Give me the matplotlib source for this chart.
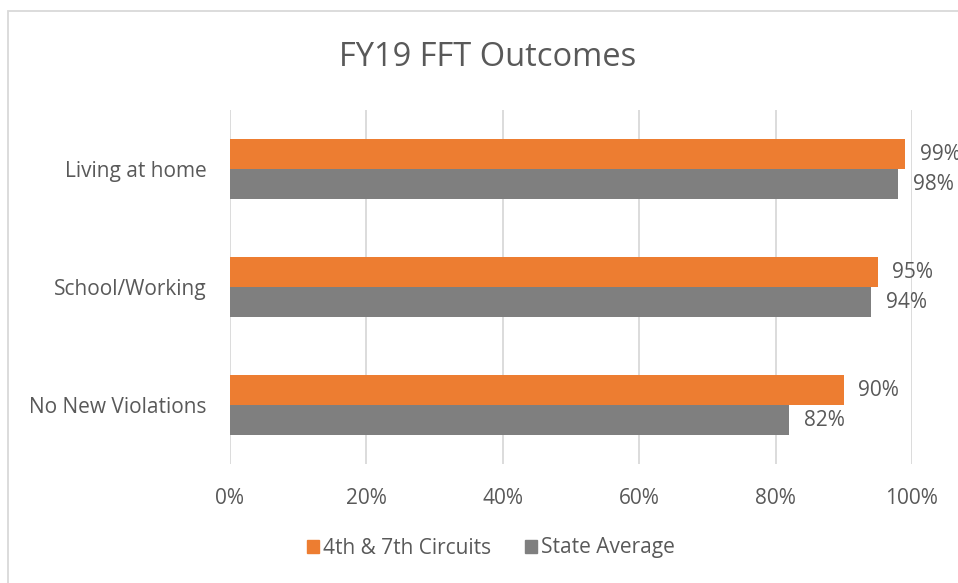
import matplotlib
matplotlib.use("Agg")
import matplotlib.pyplot as plt
from matplotlib.patches import Rectangle, Patch
import numpy as np

categories = ["Living at home", "School/Working", "No New Violations"]
circuits = [99, 95, 90]
state_avg = [98, 94, 82]
series_names = ["4th & 7th Circuits", "State Average"]
xticks = [0, 20, 40, 60, 80, 100]

plt.rcParams['font.family'] = ['Open Sans', 'DejaVu Sans']
TXT = "#595959"
ORANGE = "#ED7D31"
GRAY = "#7F7F7F"
FS = 15

fig = plt.figure(figsize=(9.58, 5.83), dpi=100)
W, H = 958, 583
ax = fig.add_axes([230 / W, 1 - 464 / H, (912 - 230) / W, (464 - 110) / H])

y = np.arange(len(categories))
bh = 30 / 118
ax.barh(y - bh / 2, circuits, height=bh, color=ORANGE, zorder=3)
ax.barh(y + bh / 2, state_avg, height=bh, color=GRAY, zorder=3)
for i in range(len(categories)):
    ax.annotate(f"{circuits[i]}%", (circuits[i], y[i] - bh / 2), xytext=(10.5, 0),
                textcoords="offset points", va="center", ha="left", fontsize=FS,
                color=TXT, annotation_clip=False)
    ax.annotate(f"{state_avg[i]}%", (state_avg[i], y[i] + bh / 2), xytext=(10.5, 0),
                textcoords="offset points", va="center", ha="left", fontsize=FS,
                color=TXT, annotation_clip=False)

ax.set_xlim(0, 100)
ax.set_ylim(len(categories) - 0.5, -0.5)
ax.set_yticks(y)
ax.set_yticklabels(categories, fontsize=FS, color=TXT)
ax.set_xticks(xticks)
ax.set_xticklabels([f"{t}%" for t in xticks], fontsize=FS, color=TXT)
ax.tick_params(axis='both', length=0)
ax.tick_params(axis='x', pad=17)
ax.tick_params(axis='y', pad=17)
for s in ax.spines.values():
    s.set_visible(False)
ax.grid(axis='x', color="#D9D9D9", linewidth=1.3, zorder=0)
ax.set_facecolor("none")

fig.text(488 / W, 1 - 57 / H, "FY19 FFT Outcomes", ha="center", va="center",
         fontsize=23.5, color=TXT)

handles = [Patch(color=ORANGE), Patch(color=GRAY)]
fig.legend(handles, series_names, loc="center", bbox_to_anchor=(491 / W, 1 - 548 / H),
           ncol=2, frameon=False, fontsize=FS, labelcolor=TXT,
           handlelength=0.6, handleheight=0.6, handletextpad=0.2, columnspacing=1.6)

fig.patches.append(Rectangle((8 / W, -0.1), 1.2, 1 - 11 / H + 0.1, transform=fig.transFigure,
                             fill=False, edgecolor="#D9D9D9", linewidth=1.3, zorder=0))

fig.savefig("out.png", dpi=100)
